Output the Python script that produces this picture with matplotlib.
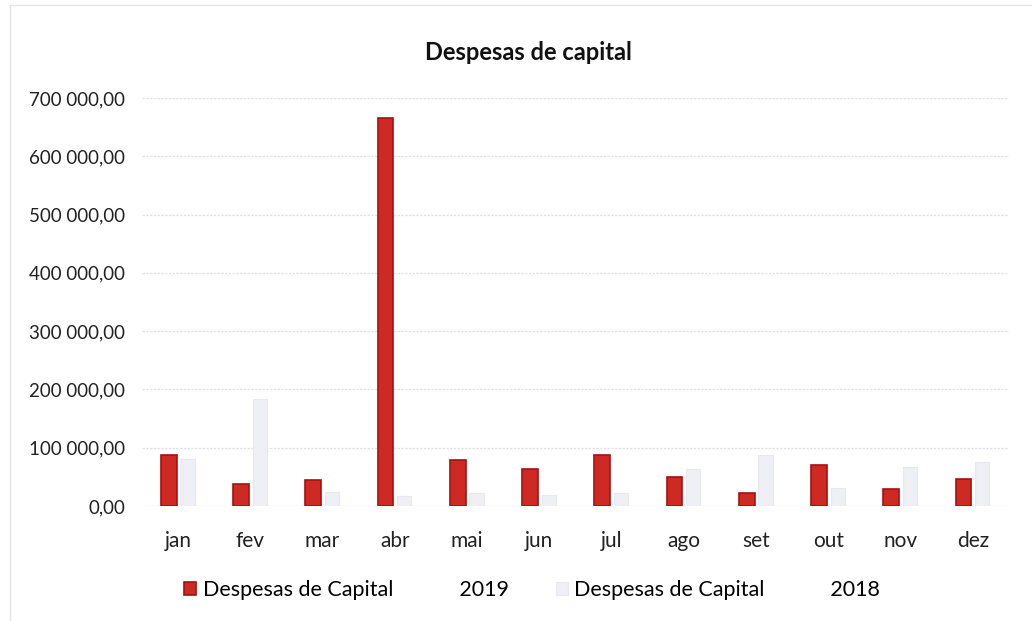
import numpy as np
import matplotlib
matplotlib.use('Agg')
import matplotlib.pyplot as plt
from matplotlib.ticker import FuncFormatter
from matplotlib.patches import Rectangle

months = ['jan', 'fev', 'mar', 'abr', 'mai', 'jun', 'jul', 'ago', 'set', 'out', 'nov', 'dez']
capital_2019 = [87500, 37500, 44500, 665500, 79000, 63500, 87500, 50000, 22000, 70000, 29000, 46000]
capital_2018 = [80000, 183500, 24000, 17000, 22000, 19000, 22000, 63500, 87500, 31000, 67000, 75500]
y_ticks = [0, 100000, 200000, 300000, 400000, 500000, 600000, 700000]

plt.rcParams['font.family'] = ['Lato', 'DejaVu Sans']

fig = plt.figure(figsize=(10.32, 6.21), dpi=100)
ax = fig.add_axes([142 / 1032, 1 - 506 / 621, (1009 - 142) / 1032, (506 - 98) / 621])

# faint chart border like the spreadsheet frame
fig.patches.append(Rectangle((10 / 1032, -0.01), 1.02, 1 - 5 / 621 + 0.01, transform=fig.transFigure,
                             fill=False, edgecolor='#e4e4e4', lw=1))

x = np.arange(len(months))
w = 0.22
ax.bar(x - 0.13, capital_2019, w, color='#cc2a22', edgecolor='#a81010', lw=1.2,
       label='Despesas de Capital            2019', zorder=3)
ax.bar(x + 0.13, capital_2018, w * 0.9, color='#eef0f6', edgecolor='#e6e9f1', lw=0.8,
       label='Despesas de Capital            2018', zorder=3)

ax.set_xlim(-0.5, len(months) - 0.5)
ax.set_ylim(0, 700000)
ax.set_yticks(y_ticks)
ax.yaxis.set_major_formatter(FuncFormatter(lambda v, p: f"{int(v):,}".replace(',', ' ') + ',00'))
ax.set_xticks(x)
ax.set_xticklabels(months)
ax.tick_params(axis='both', length=0, labelsize=13.5, colors='#222222')
ax.tick_params(axis='y', pad=12)
ax.tick_params(axis='x', labelsize=15, pad=18)
ax.grid(axis='y', color='#e2e2e2', lw=0.9, linestyle=(0, (2, 1)), zorder=0)
for s in ax.spines.values():
    s.set_visible(False)

fig.text(528 / 1032, 1 - 52 / 621, 'Despesas de capital', ha='center', va='center',
         fontsize=17, fontweight='bold', color='#111111')

ax.legend(loc='center', bbox_to_anchor=(0.45, (506 - 590) / (506 - 98)), ncol=2, frameon=False,
          fontsize=15.5, handlelength=0.55, handleheight=0.55, handletextpad=0.3, columnspacing=2.2)

fig.savefig('out.png', dpi=100)
